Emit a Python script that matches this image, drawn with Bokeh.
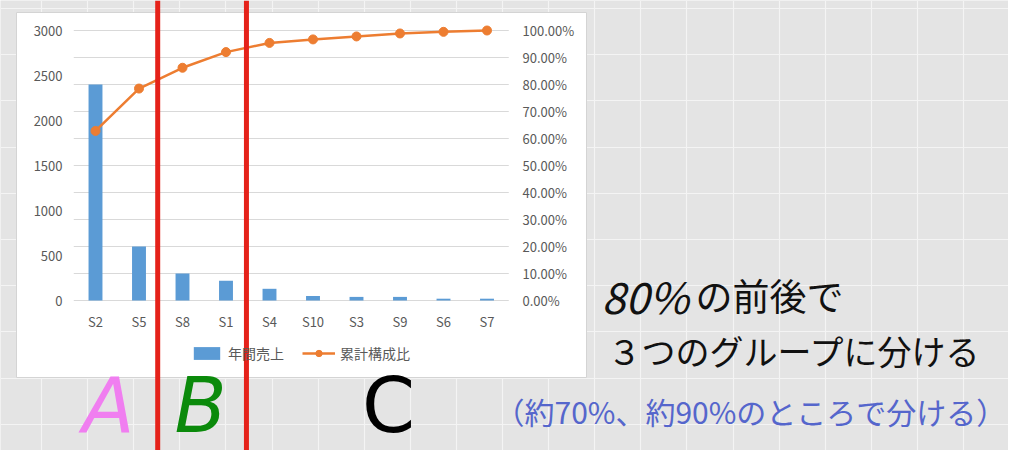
import numpy as np
from bokeh.plotting import figure
from bokeh.models import Range1d, FixedTicker, Span, Legend, LegendItem
from bokeh.core.properties import value
from bokeh.embed import file_html
from bokeh.resources import INLINE

# ---------------- data ----------------
stores = ["S2", "S5", "S8", "S1", "S4", "S10", "S3", "S9", "S6", "S7"]
annual_sales = [2400, 600, 300, 220, 130, 50, 40, 40, 20, 20]
cum_ratio = [62.8, 78.5, 86.2, 92.0, 95.4, 96.7, 97.8, 98.9, 99.5, 100.0]
sales_ticks = [0, 500, 1000, 1500, 2000, 2500, 3000]
ratio_ticks = [0, 10, 20, 30, 40, 50, 60, 70, 80, 90, 100]
ratio_tick_labels = [f"{t:.2f}%" for t in ratio_ticks]
series_names = ["年間売上", "累計構成比"]
group_letters = ["A", "B", "C"]
group_splits = [1.43, 3.47]          # split lines between S5|S8 and S1|S4
title_line1a = "80%"
title_line1b = "の前後で"
title_line2 = "３つのグループに分ける"
note_line = "（約70%、約90%のところで分ける）"

# ---------------- layout (screen geometry) ----------------
W, H = 1008, 450
CAT0_PX, CAT_STEP = 95.0, 43.5     # pixel x of first category, spacing
ZERO_PX, FULL_PX = 300.0, 30.0     # pixel y of axis 0 and axis max
SALES_MAX, PCT_MAX = 3000.0, 100.0

def px2x(px):
    return (px - CAT0_PX) / CAT_STEP

def py2s(py):
    return (ZERO_PX - py) / (ZERO_PX - FULL_PX) * SALES_MAX

def py2p(py):
    return (ZERO_PX - py) / (ZERO_PX - FULL_PX) * PCT_MAX

x_range = Range1d(px2x(0), px2x(W))
y_range = Range1d(py2s(H), py2s(0))

p = figure(width=W, height=H, x_range=x_range, y_range=y_range,
           output_backend="svg", toolbar_location=None,
           x_axis_location=None, y_axis_location=None, min_border=0)
p.extra_y_ranges = {"pct": Range1d(py2p(H), py2p(0))}
p.outline_line_color = None
p.background_fill_color = "#e4e4e4"
p.border_fill_color = "#e4e4e4"

# spreadsheet cell grid in the background
p.xgrid.ticker = FixedTicker(ticks=[px2x(v) for v in np.arange(41, 1024, 46.1)])
p.ygrid.ticker = FixedTicker(ticks=[py2s(v) for v in np.arange(8, 466, 46.2)])
for g in (p.xgrid, p.ygrid):
    g.grid_line_color = "#f4f4f4"
    g.grid_line_width = 1.2

# chart area (white box)
p.quad(left=px2x(16), right=px2x(586), top=py2s(12), bottom=py2s(377),
       fill_color="white", line_color="#d4d4d4", line_width=1)

idx = np.arange(len(stores))
FONT_NAME = "Noto Sans CJK JP"
FONT = value(FONT_NAME)
GRAY = "#595959"

# chart gridlines (aligned with the secondary axis)
p.segment(x0=-0.5, x1=len(stores) - 0.5, y0=ratio_ticks, y1=ratio_ticks,
          y_range_name="pct", line_color="#d9d9d9", line_width=1)

bars = p.vbar(x=idx, top=annual_sales, width=0.32, fill_color="#5b9bd5", line_color=None)
ln = p.line(idx, cum_ratio, y_range_name="pct", line_color="#ed7d31", line_width=2.5)
pts = p.scatter(idx, cum_ratio, y_range_name="pct", size=9, fill_color="#ed7d31", line_color="#ed7d31")

# axis tick labels
p.text(x=px2x(62), y=sales_ticks, text=[str(t) for t in sales_ticks],
       text_align="right", text_baseline="middle", text_font=FONT,
       text_font_size="13px", text_color=GRAY)
p.text(x=px2x(522), y=ratio_ticks, text=ratio_tick_labels, y_range_name="pct",
       text_align="left", text_baseline="middle", text_font=FONT,
       text_font_size="13px", text_color=GRAY)
p.text(x=idx, y=py2s(321), text=stores, text_align="center", text_baseline="middle",
       text_font=FONT, text_font_size="13px", text_color=GRAY)

# legend
legend = Legend(items=[LegendItem(label=series_names[0], renderers=[bars]),
                       LegendItem(label=series_names[1], renderers=[ln, pts])],
                location=(190, H - 363), orientation="horizontal",
                glyph_width=33, glyph_height=16, label_height=16,
                label_standoff=5, spacing=18, padding=0, margin=0,
                background_fill_alpha=0, border_line_color=None,
                label_text_font=FONT_NAME, label_text_font_size="14px",
                label_text_color=GRAY)
p.add_layout(legend)

# red split lines
for s in group_splits:
    p.add_layout(Span(location=s, dimension="height", line_color="#e5221a", line_width=5))

# group letters
letter_x = [px2x(108), px2x(200), px2x(388)]
letter_colors = ["#f07ef0", "#0b8a0b", "#000000"]
letter_styles = ["italic", "italic", "normal"]
for L, lx, c, st in zip(group_letters, letter_x, letter_colors, letter_styles):
    p.text(x=[lx], y=[py2s(405)], text=[L], text_align="center", text_baseline="middle",
           text_font=value("DejaVu Sans"), text_font_size="76px", text_color=c,
           text_font_style=st)

# explanation texts
p.text(x=[px2x(601)], y=[py2s(294)], text=[title_line1a], text_align="left",
       text_baseline="middle", text_font=FONT, text_font_size="43px",
       text_font_style="italic", text_color="#111111")
p.text(x=[px2x(695)], y=[py2s(294)], text=[title_line1b], text_align="left",
       text_baseline="middle", text_font=FONT, text_font_size="37px",
       text_color="#111111")
p.text(x=[px2x(607)], y=[py2s(350)], text=[title_line2], text_align="left",
       text_baseline="middle", text_font=FONT, text_font_size="34px",
       text_color="#111111")
p.text(x=[px2x(494)], y=[py2s(410)], text=[note_line], text_align="left",
       text_baseline="middle", text_font=FONT, text_font_size="30px",
       text_color="#5566cc")

open("out.html", "w").write(file_html(p, INLINE))
